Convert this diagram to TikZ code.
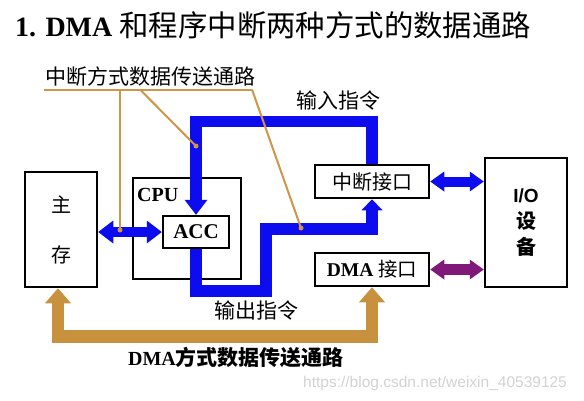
\documentclass[tikz,border=0pt]{standalone}
\usepackage{fontspec}
\setmainfont{Liberation Serif}
\setsansfont{Liberation Sans}
\newfontfamily\cjk{Noto Sans CJK SC}
\usetikzlibrary{arrows.meta}
\definecolor{myblue}{RGB}{12,12,238}
\definecolor{myorange}{RGB}{200,145,62}
\definecolor{lineorange}{RGB}{205,150,72}
\definecolor{mypurple}{RGB}{128,24,122}
\newcommand\fsz[2]{\fontsize{#1}{#2}\selectfont}
\tikzset{
  box/.style={draw=black, line width=2.5pt, fill=white, inner sep=0pt, align=center},
  txt/.style={inner sep=0pt, text=black},
  thinline/.style={draw=lineorange, line width=2pt},
  bluepath/.style={draw=myblue, line width=11.5pt, line join=miter},
  dblblue/.style={draw=myblue, line width=10pt},
  dblpurple/.style={draw=mypurple, line width=11pt},
  dmapath/.style={draw=myorange, line width=12.5pt, line join=miter},
  bigtip/.tip={Triangle[length=15pt,width=23pt,line width=0pt]},
  smalltip/.tip={Triangle[length=11pt,width=21pt,line width=0pt]},
  sidetip/.tip={Triangle[length=14pt,width=20pt,line width=0pt]},
  ortip/.tip={Triangle[length=15pt,width=26pt,line width=0pt]},
}
\begin{document}
\begin{tikzpicture}[x=1pt,y=-1pt]
\useasboundingbox (0,0) rectangle (584,400);

% title
\node[txt, anchor=west] (title) at (15,25)
  {{\fsz{28}{32}\bfseries 1. DMA }{\cjk\fsz{29.4}{32}和程序中断两种方式的数据通路}};

% boxes
\node[box, minimum width=72pt, minimum height=115pt, font={\cjk\fsz{20}{50}}] (zc) at (61,229.5)
  {主\\存};
\node[box, minimum width=108pt, minimum height=101pt] (cpu) at (187,228.5) {};
\node[txt, anchor=west] (cpulab) at (137,195) {\fsz{20}{24}\bfseries CPU};
\node[box, minimum width=66pt, minimum height=32pt] (acc) at (196,232)
  {\fsz{21}{24}\bfseries ACC};
\node[box, minimum width=114pt, minimum height=33pt] (zd) at (372,181.5)
  {\cjk\fsz{20}{24}中断接口};
\node[box, minimum width=114pt, minimum height=33pt] (dma) at (372,269.5)
  {\fsz{19.5}{24}{\bfseries DMA} {\cjk 接口}};
\node[box, minimum width=82pt, minimum height=129pt, font={\fsz{20}{26}\bfseries}] (io) at (526,222.5)
  {{\sffamily\fsz{19}{26}I/O}\\{\cjk 设}\\{\cjk 备}};

% coordinates
\coordinate (intop) at (196,121.5);
\coordinate (o1) at (266,291);
\coordinate (o2) at (372,229);
\coordinate (dmabot) at (372,336.5);

% blue paths
\draw[bluepath, -bigtip] (zd.north) |- (intop) -- (acc.north);
\draw[bluepath, -smalltip] (acc.south) |- (o1) |- (o2) -- (zd.south);
\draw[dblblue, bigtip-bigtip] (zc.east |- acc.west) -- (acc.west);
\draw[dblblue, sidetip-sidetip] (zd.east) -- (io.west |- zd.east);
\draw[dblpurple, sidetip-sidetip] (dma.east) -- (io.west |- dma.east);

% DMA path
\draw[dmapath, ortip-ortip] ([xshift=-3pt]zc.south) |- (dmabot) -- (dma.south);

% labels
\node[txt] (lab1) at (150.5,76.5) {\cjk\fsz{21}{24}中断方式数据传送通路};
\node[txt] (labin) at (338.5,101) {\cjk\fsz{21}{24}输入指令};
\node[txt] (labout) at (256.5,311) {\cjk\fsz{21}{24}输出指令};
\node[txt] (labdma) at (236,357) {{\fsz{20}{24}\bfseries DMA}{\cjk\bfseries\fsz{21}{24}方式数据传送通路}};
\node[txt, anchor=west, text=gray!35] (wm) at (303,383) {\sffamily\fsz{15.5}{18}https://blog.csdn.net/weixin\_40539125};

% thin orange pointer lines
\coordinate (ul) at (44,89.5);
\coordinate (ur) at (252,89.5);
\coordinate (v1) at (120,89.5);
\coordinate (v1e) at (120,230);
\coordinate (d2) at (140,89.5);
\coordinate (d2e) at (196,146);
\coordinate (d3e) at (301,228);
\draw[thinline] (ul) -- (ur);
\draw[thinline] (v1) -- (v1e);
\draw[thinline] (d2) -- (d2e);
\draw[thinline] (ur) -- (d3e);
\fill[lineorange] (v1e) circle (2.5pt) (d2e) circle (2.5pt) (d3e) circle (2.5pt);
\end{tikzpicture}
\end{document}
